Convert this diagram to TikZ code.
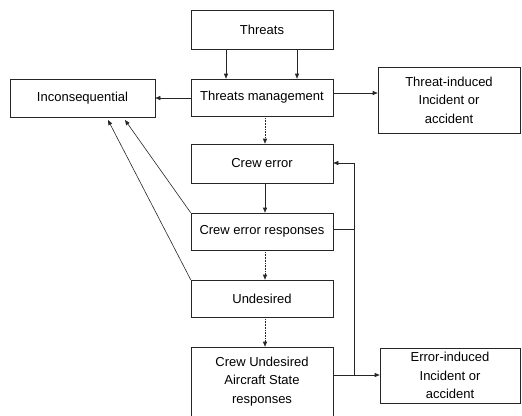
\documentclass[tikz,border=0pt]{standalone}
\usepackage{fontspec}
\setmainfont{Liberation Sans}
\usetikzlibrary{arrows.meta}
\begin{document}
\begin{tikzpicture}[x=1bp,y=-1bp,
  font=\fontsize{13bp}{18.5bp}\selectfont,
  box/.style={draw=black!85, line width=0.6bp, fill=white, align=center, inner sep=0pt},
  conn/.style={line width=0.6bp, draw=black!85},
  arr/.style={conn, -{Triangle[length=5bp,width=4bp]}},
  dots/.style={densely dotted}]
\useasboundingbox (0,0) rectangle (522,415);
\clip (0,0) rectangle (522,415);
% boxes
\node[box, minimum width=142bp, minimum height=39bp] (thr) at (262,29.5) {Threats};
\node[box, minimum width=142bp, minimum height=37bp] (tm) at (262,97.5) {Threats management};
\node[box, minimum width=145bp, minimum height=38bp] (inc) at (82.5,98) {Inconsequential};
\node[box, minimum width=142bp, minimum height=66bp] (ti) at (449,100) {Threat-induced\\Incident or\\accident};
\node[box, minimum width=142bp, minimum height=39bp] (ce) at (262,163.5) {Crew error};
\node[box, minimum width=142bp, minimum height=37bp] (cer) at (262,231.5) {Crew error responses};
\node[box, minimum width=142bp, minimum height=37bp] (und) at (262,298.5) {Undesired};
\node[box, minimum width=142bp, minimum height=83bp] (cuas) at (262,388.5) {};
\node[align=center, inner sep=0pt] (cuast) at (262,381.5) {Crew Undesired\\Aircraft State\\responses};
\node[box, minimum width=140bp, minimum height=55bp] (ei) at (450,375.5) {Error-induced\\Incident or\\accident};
% junction coordinates
\coordinate (j1) at (354,163);
\coordinate (j2) at (354,375);
\coordinate (j3) at (354,229);
\coordinate (i1) at (125,120);
\coordinate (i2) at (108,120);
% connectors
\draw[arr] ([xshift=-36bp]thr.south) -- ([xshift=-36bp]tm.north);
\draw[arr] ([xshift=35bp]thr.south) -- ([xshift=35bp]tm.north);
\draw[arr] (tm.west |- 0,98) -- (inc.east |- 0,98);
\draw[arr] (tm.east |- 0,93) -- (ti.west |- 0,93);
\draw[arr,dots] ([xshift=3bp]tm.south) -- ([xshift=3bp]ce.north);
\draw[arr] ([xshift=3bp]ce.south) -- ([xshift=3bp]cer.north);
\draw[arr,dots] ([xshift=3bp]cer.south) -- ([xshift=3bp]und.north);
\draw[arr,dots] ([xshift=3bp]und.south) -- ([xshift=3bp]cuas.north);
\draw[conn] (cer.east |- j3) -- (j3);
\draw[arr] (j2) -- (j1) -- (ce.east |- j1);
\draw[arr] (cuas.east |- j2) -- (ei.west |- j2);
\draw[arr] (cer.north west) -- (i1);
\draw[arr] (und.north west) -- (i2);
\end{tikzpicture}
\end{document}
